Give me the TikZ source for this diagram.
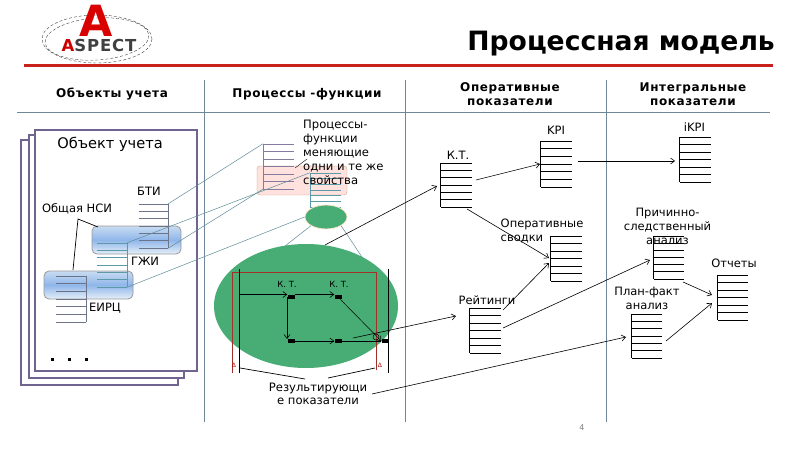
\documentclass[tikz,border=0pt]{standalone}
\usepackage{fontspec}
\setmainfont{DejaVu Sans}
\newfontfamily\spacedfont[LetterSpace=5]{DejaVu Sans}
\usetikzlibrary{arrows.meta,shapes.geometric}
\definecolor{pagec}{HTML}{6F6490}
\definecolor{rulec}{HTML}{6F8796}
\definecolor{redc}{HTML}{C8201A}
\definecolor{linkc}{HTML}{5F8C96}
\definecolor{tealc}{HTML}{5C9AA8}
\definecolor{grayt}{HTML}{6E7488}
\definecolor{greenc}{HTML}{48AD75}
\definecolor{darkred}{HTML}{A03028}
\definecolor{bluetop}{HTML}{C9DCF2}
\definecolor{bluemid}{HTML}{8FB6EA}
\definecolor{bluebot}{HTML}{E6EFF8}
\newcommand{\stackbox}[7]{%
  \pgfmathsetmacro\sbw{#4-#2}\pgfmathsetmacro\sbh{#5-#3}%
  \pgfmathsetmacro\sbx{(#4+#2)/2}\pgfmathsetmacro\sby{(#5+#3)/2}%
  \node[inner sep=0pt,minimum width=\sbw pt,minimum height=\sbh pt] (#1) at (\sbx,\sby) {};
  \foreach \i in {0,...,6}{\pgfmathsetmacro\yy{#3+\i*(#5-#3)/6}\draw[#6] (#2,\yy) -- (#4,\yy);}
  \draw[#6] (#1.north #7) -- (#1.south #7);
}
\tikzset{
  x=1pt,y=-1pt,
  page/.style={draw=pagec,line width=1.8pt,fill=white},
  head/.style={font=\fontsize{12}{14.5}\spacedfont\bfseries,align=center,inner sep=0pt},
  lab/.style={font=\fontsize{11.5}{14}\selectfont,inner sep=0pt,align=center},
  blk/.style={black,line width=0.4pt},
  tbl/.style={black,line width=0.7pt},
  arr/.style={black,line width=0.6pt,-{Straight Barb[length=4pt,width=6pt]}},
  conn/.style={black,line width=0.7pt},
  link/.style={linkc,line width=0.5pt},
  sq/.style={fill=black,inner sep=0pt,minimum width=7pt,minimum height=4.5pt},
  rle/.style={rulec,line width=0.8pt},
  bluebox/.style={rounded corners=5pt,draw=gray!80,line width=0.8pt,top color=bluetop,bottom color=bluebot,middle color=bluemid},
}
\begin{document}
\begin{tikzpicture}
\useasboundingbox (0,0) rectangle (800,449);
\fill[white] (0,0) rectangle (800,449);
% logo
\draw[black!75,densely dashed,line width=0.4pt] (97,39) ellipse [x radius=55,y radius=24];
\draw[black!75,densely dashed,line width=0.4pt,rotate around={4:(97,39)}] (97,39) ellipse [x radius=52,y radius=21];
\node[text=red!85!black,font=\fontsize{43}{43}\selectfont\bfseries,inner sep=0pt] (logoA) at (96.5,21) {A};
\node[font=\fontsize{16.5}{17}\spacedfont\bfseries,inner sep=0pt,text=black!75] (logoT) at (99,45) {\textcolor{red!80!black}{A}SPECT};
% title
\node[font=\fontsize{26.6}{28}\selectfont\bfseries,inner sep=0pt,anchor=east] (title) at (775,44) {Процессная модель};
\draw[redc,line width=2.4pt] (24,65.5) -- (773,65.5);
% header grid
\draw[rle] (17,112) -- (770,112);
\draw[rle] (204,80) -- (204,422);
\draw[rle] (405,80) -- (405,422);
\draw[rle] (606,80) -- (606,422);
\node[head] (h1) at (112,94) {Объекты учета};
\node[head] (h2) at (307,94) {Процессы -функции};
\node[head] (h3) at (510,94) {Оперативные\\показатели};
\node[head] (h4) at (693,94) {Интегральные\\показатели};
% pages
\draw[page] (21,140) rectangle (178,385);
\draw[page] (29,135) rectangle (184,378);
\draw[page] (35,130) rectangle (197,371);
\node[font=\fontsize{14.6}{16}\selectfont,inner sep=0pt] (obj) at (110,144) {Объект учета};
% blue boxes
\path[bluebox] (92,226) rectangle (181,254);
\path[bluebox] (44,271) rectangle (133,299);
\stackbox{bti}{139}{204}{168}{248}{grayt,line width=0.6pt}{east}
\stackbox{gji}{97}{243}{127}{287}{tealc,line width=0.6pt}{east}
\stackbox{eirc}{56}{276}{86}{322}{grayt,line width=0.6pt}{east}
\node[lab] (lbti) at (149,191) {БТИ};
\node[lab] (lnsi) at (77,209) {Общая НСИ};
\node[lab] (lgji) at (145,261) {ГЖИ};
\node[lab] (leirc) at (105,308) {ЕИРЦ};
\coordinate (nsi) at (78,219);
\coordinate (nsia) at (98,227);
\coordinate (nsib) at (73,270);
\draw[conn] (nsia) -- (nsi) -- (nsib);
\node[sq,minimum width=3pt,minimum height=3pt] (d1) at (52,359) {};
\node[sq,minimum width=3pt,minimum height=3pt] (d2) at (69,359) {};
\node[sq,minimum width=3pt,minimum height=3pt] (d3) at (86,359) {};
% process column
\path[rounded corners=3pt,draw=orange!45!gray!70,fill=orange!18!red!13] (257,166) rectangle (347,195);
\stackbox{pt}{263}{144}{294}{189}{pagec!85,line width=0.6pt}{west}
\stackbox{pu}{310}{173}{341}{207}{tealc,line width=0.6pt}{west}
\node[ellipse,fill=greenc,draw=orange!20,line width=0.8pt,inner sep=0pt,minimum width=42pt,minimum height=24pt] (small) at (326,217) {};
\node[ellipse,fill=greenc,inner sep=0pt,minimum width=184pt,minimum height=124pt] (big) at (306,306) {};
\node[font=\fontsize{11.6}{14}\selectfont,align=left,inner sep=0pt,anchor=north west] (lproc) at (303,120) {Процессы-\\функции\\меняющие\\одни и те же\\свойства};
\coordinate (pl1) at (295,168);
\coordinate (pl2) at (307,159);
\draw[conn,line width=0.4pt] (pl1) -- (pl2);
% links
\draw[link] (bti.north east) -- (pt.north west);
\draw[link] (bti.south east) -- (pt.south west);
\draw[link] (gji.north east) -- (pu.north west);
\draw[link] (gji.south east) -- (small.west);
\coordinate (sb1) at (285,246);
\coordinate (sb2) at (362,257);
\draw[link] (small.south west) -- (sb1);
\draw[link] (small.south east) -- (sb2);
% red frame
\draw[darkred,line width=0.8pt] (232,373) -- (232,272) -- (376,272) -- (376,370);
\node[text=red!70!black,font=\fontsize{6}{6}\selectfont,inner sep=0pt] (tri1) at (234,365) {Δ};
\node[text=red!70!black,font=\fontsize{6}{6}\selectfont,inner sep=0pt] (tri2) at (380,365) {Δ};
% black verticals
\draw[conn] (239,269) -- (239,373);
\draw[conn] (388,269) -- (388,373);
% flow
\node[sq] (s1) at (291,297) {};
\node[sq] (s2) at (338,297) {};
\node[sq] (s3) at (291,341) {};
\node[sq] (s4) at (338,341) {};
\node[sq] (s5) at (385,341) {};
\coordinate (fl) at (239,294.5);
\coordinate (v1) at (287,297);
\coordinate (v2) at (287,339);
\draw[arr] (fl) -- (s1.west |- fl);
\draw[arr] (s1.east |- fl) -- (s2.west |- fl);
\draw[arr] (v1) -- (v2);
\draw[arr] (s3) -- (s4.west);
\draw[conn] (s4) -- (s5);
\draw[arr,line width=0.5pt] (s2) -- (s5.west);
\draw[black,line width=0.5pt] (376,337) circle (3pt);
\node[font=\fontsize{8.5}{10}\selectfont,inner sep=0pt] (kt1) at (287,284) {К. Т.};
\node[font=\fontsize{8.5}{10}\selectfont,inner sep=0pt] (kt2) at (339,284) {К. Т.};
\node[font=\fontsize{11.6}{13.5}\selectfont,align=center,inner sep=0pt] (res) at (318,394) {Результирующи\\е показатели};
\coordinate (r1) at (240,368);\coordinate (r2) at (305,379);
\coordinate (r3) at (328,378);\coordinate (r4) at (375,368);
\draw[conn] (r1) -- (r2);
\draw[conn] (r3) -- (r4);
% right tables
\stackbox{kt}{441}{163}{472}{207}{tbl}{west}
\stackbox{kpi}{541}{141}{572}{187}{tbl}{west}
\stackbox{oper}{551}{236}{582}{281}{tbl}{west}
\stackbox{rat}{470}{308}{501}{353}{tbl}{west}
\stackbox{ikpi}{680}{137}{711}{182}{tbl}{west}
\stackbox{cause}{654}{236}{684}{279}{tbl}{west}
\stackbox{rep}{718}{275}{748}{320}{tbl}{west}
\stackbox{plan}{632}{314}{662}{358}{tbl}{west}
\node[lab] (lkt) at (458,155) {К.Т.};
\node[lab] (lkpi) at (556,130) {KPI};
\node[lab,anchor=north west,align=left] (lop) at (500.5,219) {Оперативные\\сводки};
\node[lab] (lrat) at (487,300) {Рейтинги};
\node[lab] (likpi) at (694.5,127) {iKPI};
\node[lab] (lcause) at (667.5,226) {Причинно-\\следственный\\анализ};
\node[lab] (lrep) at (734,263) {Отчеты};
\node[lab] (lplan) at (647,298) {План-факт\\анализ};
% connectors
\coordinate (a0) at (325,245);\coordinate (a1) at (437,186);
\draw[arr] (a0) -- (a1);
\coordinate (b0) at (353,338);\coordinate (b1) at (456,316);
\draw[arr] (b0) -- (b1);
\coordinate (c0) at (372,394);\coordinate (c1) at (626,337);
\draw[arr] (c0) -- (c1);
\coordinate (d0) at (476,180);\coordinate (d1) at (540,164);
\draw[arr] (d0) -- (d1);
\coordinate (e0) at (578,161);\coordinate (e1) at (675,161);
\draw[arr] (e0) -- (e1);
\coordinate (f0) at (467,209);\coordinate (f1) at (549,258);
\draw[arr] (f0) -- (f1);
\coordinate (g0) at (503,310);\coordinate (g1) at (549,263);
\draw[arr] (g0) -- (g1);
\coordinate (h0) at (503,328);\coordinate (h1) at (650,260);
\draw[arr] (h0) -- (h1);
\coordinate (i0) at (683,282);\coordinate (i1) at (712,295);
\draw[arr] (i0) -- (i1);
\coordinate (j0) at (666,341);\coordinate (j1) at (712,303);
\draw[arr] (j0) -- (j1);
\node[text=gray,font=\fontsize{8}{10}\selectfont,inner sep=0pt] (pg) at (582,428) {4};
\end{tikzpicture}
\end{document}
